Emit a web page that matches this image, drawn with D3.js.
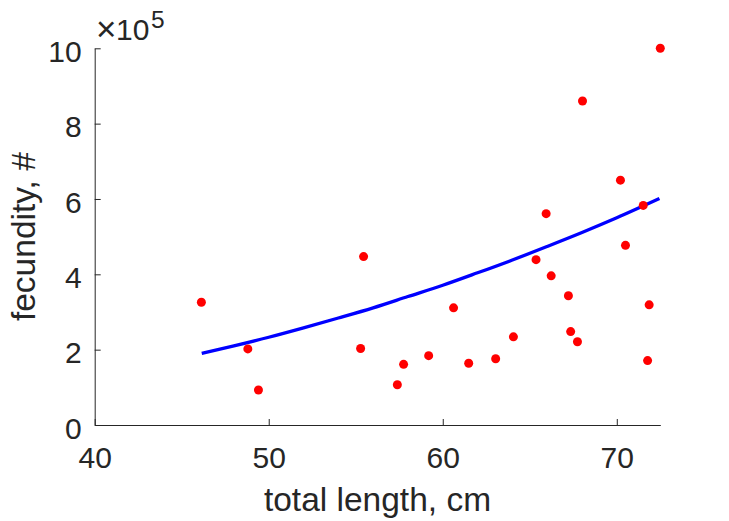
<!DOCTYPE html>
<html>
<head>
<meta charset="utf-8">
<script src="https://cdn.jsdelivr.net/npm/d3@7"></script>
<style>
  html, body { margin: 0; padding: 0; background: #fff; }
  svg text { font-family: "Liberation Sans", Arial, Helvetica, sans-serif; fill: #262626; }
</style>
</head>
<body>
<svg id="chart" width="729" height="521"></svg>
<script>
// measured fish: total length (cm) and fecundity (x 1e5)
const lengthCm = [46.13, 48.80, 49.41, 55.28, 55.45, 57.39, 57.75, 59.19, 60.62, 61.49,
                  63.04, 64.06, 65.36, 65.94, 66.23, 67.22, 67.35, 67.74, 68.03, 70.21,
                  70.50, 71.52, 71.77, 71.86, 72.50];
const fecundity = [3.26, 2.02, 0.93, 2.03, 4.47, 1.07, 1.61, 1.84, 3.11, 1.64,
                   1.76, 2.34, 4.39, 5.61, 3.96, 3.43, 2.48, 2.21, 8.60, 6.50,
                   4.77, 5.83, 1.71, 3.19, 10.00];

// fitted curve
const fitX = [46.15, 48, 50, 52, 54, 56, 58, 60, 62, 64, 66, 68, 70, 72.45];
const fitY = [1.90, 2.10, 2.33, 2.58, 2.84, 3.11, 3.41, 3.71, 4.04, 4.38, 4.74, 5.11, 5.50, 6.01];

const xTicks = [40, 50, 60, 70];
const yTicks = [0, 2, 4, 6, 8, 10];

const svg = d3.select('#chart');
const ink = '#262626';
const margin = { left: 94.7, right: 729 - 660.3, top: 48.3, bottom: 521 - 425 };
const width = 729, height = 521;

const x = d3.scaleLinear([40, 72.5], [margin.left, width - margin.right]);
const y = d3.scaleLinear([0, 10], [height - margin.bottom, margin.top]);

svg.append('rect').attr('width', width).attr('height', height).attr('fill', '#fff');

const tickLen = 6;

// x axis (ticks pointing inward)
const xAxis = svg.append('g')
  .attr('transform', `translate(0,${y(0)})`)
  .call(d3.axisBottom(x).tickValues(xTicks).tickSizeInner(-tickLen).tickSizeOuter(0).tickPadding(0));
xAxis.select('.domain').attr('stroke', ink);
xAxis.selectAll('.tick line').attr('stroke', ink);
xAxis.selectAll('.tick text')
  .attr('font-size', 30)
  .attr('dy', null)
  .attr('y', 43.3)
  .style('fill', ink);

// y axis
const yAxis = svg.append('g')
  .attr('transform', `translate(${x(40)},0)`)
  .call(d3.axisLeft(y).tickValues(yTicks).tickSizeInner(-tickLen).tickSizeOuter(0).tickPadding(0));
yAxis.select('.domain').attr('stroke', ink);
yAxis.selectAll('.tick line').attr('stroke', ink);
yAxis.selectAll('.tick text')
  .attr('font-size', 30)
  .attr('dy', null)
  .attr('x', -13)
  .attr('y', 13.3)
  .style('fill', ink);

// exponent label  x10^5
svg.append('text')
  .attr('x', 96)
  .attr('y', 40.5)
  .attr('font-size', 35)
  .text('\u00d7');
svg.append('text')
  .attr('x', 116)
  .attr('y', 39.5)
  .attr('font-size', 30)
  .text('10');
svg.append('text')
  .attr('x', 151)
  .attr('y', 28)
  .attr('font-size', 24.5)
  .text('5');

// axis labels
svg.append('text')
  .attr('x', (x(40) + x(72.5)) / 2)
  .attr('y', 510.5)
  .attr('text-anchor', 'middle')
  .attr('font-size', 33.5)
  .text('total length, cm');

svg.append('text')
  .attr('transform', `translate(35,${(y(0) + y(10)) / 2}) rotate(-90)`)
  .attr('text-anchor', 'middle')
  .attr('font-size', 33.5)
  .text('fecundity, #');

// fitted curve
const line = d3.line()
  .x((d, i) => x(fitX[i]))
  .y(d => y(d))
  .curve(d3.curveMonotoneX);

svg.append('path')
  .datum(fitY)
  .attr('d', line)
  .attr('fill', 'none')
  .attr('stroke', '#0000ff')
  .attr('stroke-width', 3.3);

// data points
svg.append('g')
  .selectAll('circle')
  .data(lengthCm)
  .join('circle')
  .attr('cx', d => x(d))
  .attr('cy', (d, i) => y(fecundity[i]))
  .attr('r', 4.5)
  .attr('fill', '#ff0000');
</script>
</body>
</html>
